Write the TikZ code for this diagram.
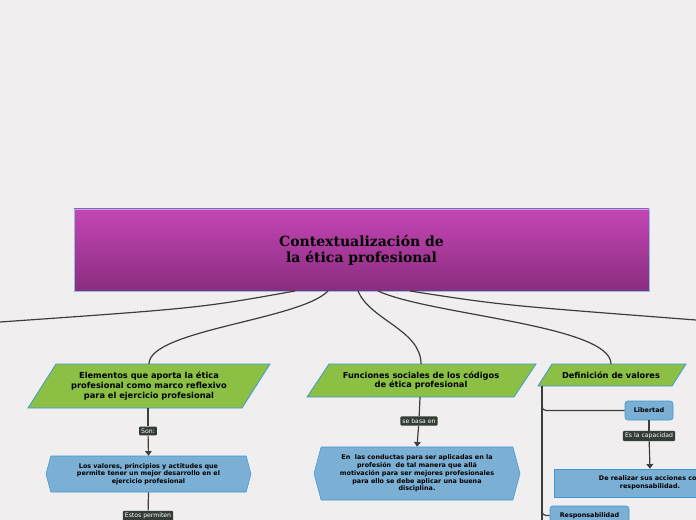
\documentclass[tikz,border=0pt]{standalone}
\usepackage{fontspec}
\setmainfont{DejaVu Sans}
\newfontfamily\titlefont{DejaVu Serif}
\usetikzlibrary{positioning,shapes.symbols,arrows.meta}
\definecolor{bgc}{HTML}{F1EEEF}
\definecolor{topc}{HTML}{C445B5}
\definecolor{botc}{HTML}{8A2D7E}
\definecolor{grn}{HTML}{8BC045}
\definecolor{edge}{HTML}{3A9AD9}
\definecolor{blu}{HTML}{7BAFD4}
\definecolor{tag}{HTML}{343D35}
\definecolor{wire}{HTML}{3A3F3B}
\tikzset{
  tagbox/.style={fill=tag,text=white,font=\fontsize{4.6}{5}\selectfont,inner sep=1.6pt,rounded corners=0.8pt},
  hexbox/.style={signal,signal to=west and east,signal pointer angle=150,fill=blu,draw=edge,
    font=\bfseries\fontsize{4.8}{5.8}\selectfont,align=center,inner sep=1pt},
  wirel/.style={draw=wire,line width=0.9pt},
  arr/.style={wirel,-{Triangle[width=5pt,length=3.5pt]}}
}
\begin{document}
\begin{tikzpicture}[x=0.75pt,y=-0.75pt]
  \useasboundingbox (0,0) rectangle (696,520);
  \clip (0,0) rectangle (696,520);
  \fill[bgc] (0,0) rectangle (696,520);

  % title
  \shade[top color=topc,bottom color=botc,draw=edge!60,line width=0.4pt] (74,209) rectangle (649,291);
  \node (title) at (361.5,250) [align=center,font=\titlefont\bfseries\fontsize{10.5}{12}\selectfont] {Contextualización de\\ la ética profesional};

  % green headings
  \foreach \xa/\xb/\ya/\yb/\s in {28/270/364/408/28, 307/536/364/397/22, 538/686/364/386/14}
  {
    \draw[fill=grn,draw=edge,line width=0.6pt] (\xa,\yb) -- (\xa+\s,\ya) -- (\xb,\ya) -- (\xb-\s,\yb) -- cycle;
  }
  \node (elem) at (149,386) [align=center,font=\bfseries\fontsize{6.2}{7.2}\selectfont] {Elementos que aporta la ética\\ profesional como marco reflexivo\\ para el ejercicio profesional};
  \node (func) at (421,380.5) [align=center,font=\bfseries\fontsize{6.2}{7.2}\selectfont] {Funciones sociales de los códigos\\ de ética profesional};
  \node (defv) at (611,375) [font=\bfseries\fontsize{6.2}{7.2}\selectfont] {Definición de valores};

  % branches from the title
  \draw[wirel] (295,291) .. controls (200,308) .. (0,322);
  \draw[wirel] (328,291) .. controls (300,320) and (149,330) .. (149,364);
  \draw[wirel] (358,291) .. controls (370,320) and (421,330) .. (421,364);
  \draw[wirel] (378,291) .. controls (430,315) and (611,325) .. (611,364);
  \draw[wirel] (410,291) .. controls (500,305) .. (696,320);

  % left column
  \node (val) at (148.5,474) [hexbox,minimum width=205*0.75pt,minimum height=36*0.75pt] {Los valores, principios y actitudes que\\ permite tener un mejor desarrollo en el\\ ejercicio profesional};
  \node (son) at (148,431) [tagbox] {Son:};
  \draw[wirel] (148,408) -- (son);
  \draw[arr] (son) -- (val.north);
  \node (perm) at (148,516) [tagbox] {Estos permiten};
  \draw[wirel] (val.south) -- (perm);

  % middle column
  \node (cond) at (417,473.5) [hexbox,minimum width=206*0.75pt,minimum height=53*0.75pt] {En \ las conductas para ser aplicadas en la\\ profesión \ de tal manera que allá\\ motivación para ser mejores profesionales\\ para ello se debe aplicar una buena\\ disciplina.};
  \node (base) at (419,421) [tagbox] {se basa en};
  \draw[wirel] (420,397) -- (base);
  \draw[arr] (base) -- (cond.north);

  % right column
  \coordinate (stem) at (542,386);
  \draw[wirel] (stem) -- (542,520);
  \node (lib) at (649,410.5) [fill=blu,draw=edge,rounded corners=2pt,minimum width=48*0.75pt,minimum height=19*0.75pt,inner sep=1pt,font=\bfseries\fontsize{4.8}{5.8}\selectfont] {Libertad};
  \draw[wirel,rounded corners=3pt] (542,400) |- (lib.west);
  \node (cap) at (649,436) [tagbox] {Es la capacidad};
  \draw[wirel] (lib) -- (cap);
  \node (real) at (650,483) [fill=blu,draw=edge,minimum width=192*0.75pt,minimum height=28*0.75pt,inner sep=1pt,align=center,font=\bfseries\fontsize{4.8}{5.8}\selectfont] {De realizar sus acciones con\\ responsabilidad.};
  \draw[arr] (cap) -- (real.north);
  \node (resp) at (589.5,515.5) [fill=blu,draw=edge,rounded corners=2pt,minimum width=79*0.75pt,minimum height=19*0.75pt,inner sep=1pt,font=\bfseries\fontsize{4.8}{5.8}\selectfont] {Responsabilidad};
  \draw[wirel,rounded corners=3pt] (542,500) |- (resp.west);
\end{tikzpicture}
\end{document}
